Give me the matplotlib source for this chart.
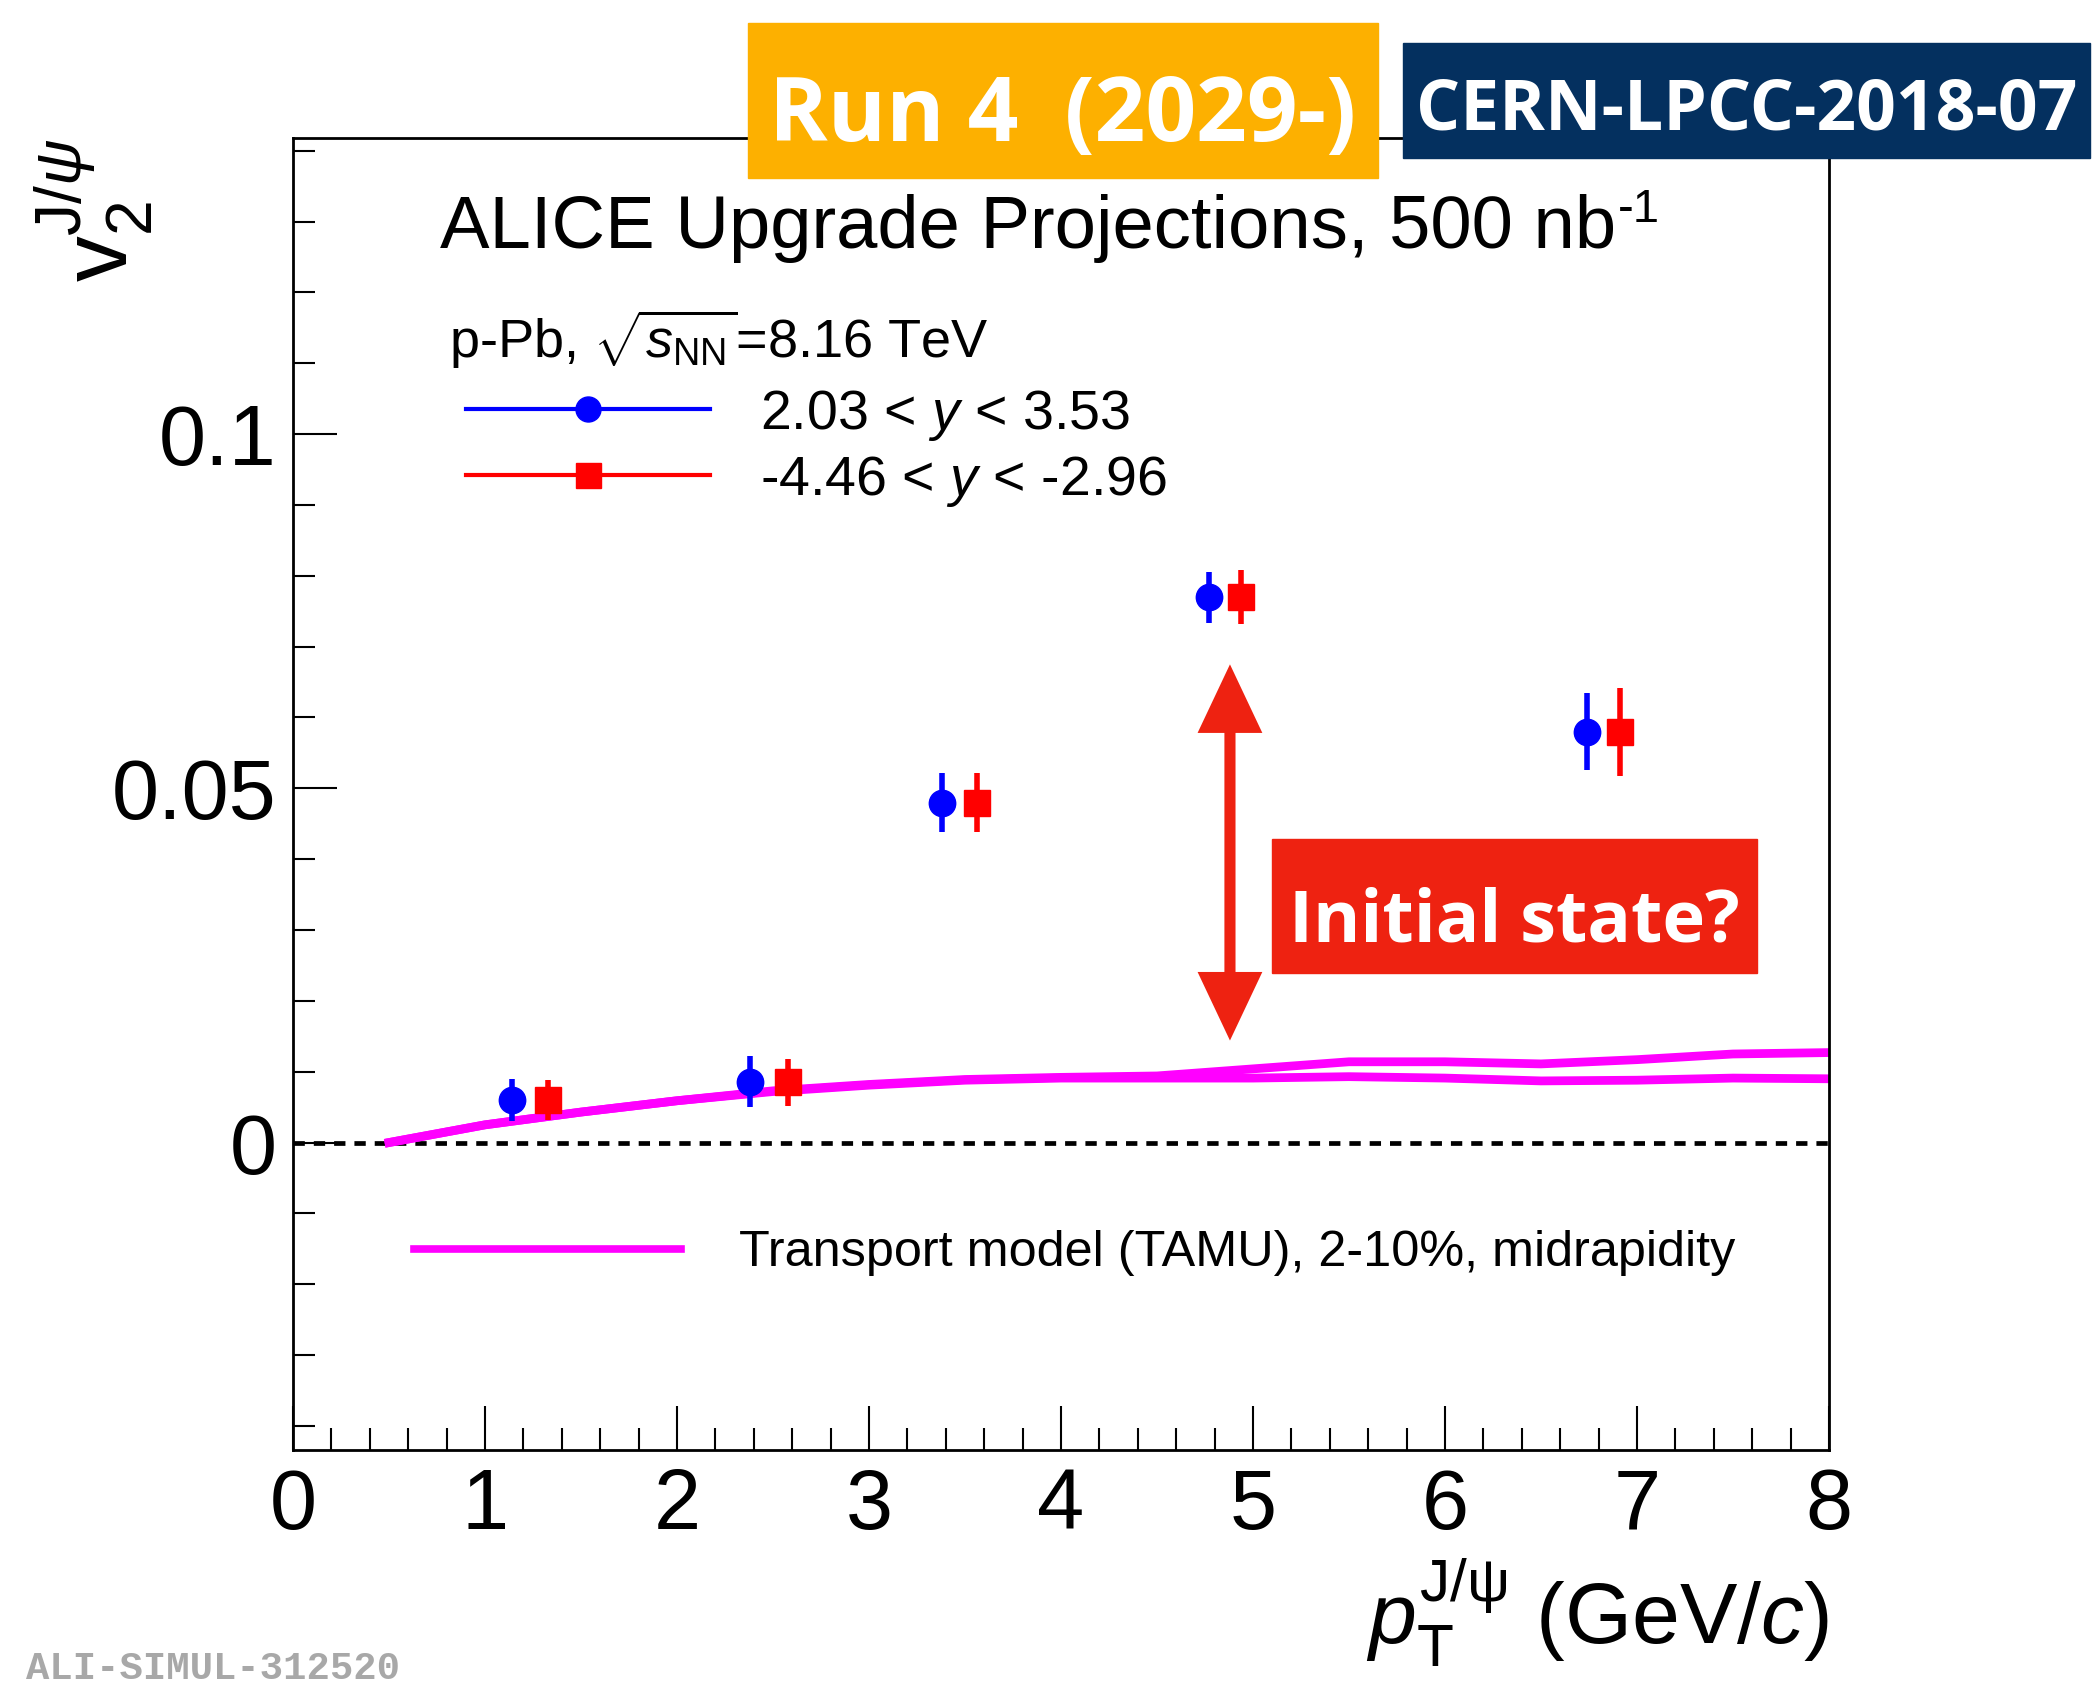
import matplotlib
matplotlib.use('Agg')
import matplotlib.pyplot as plt
from matplotlib.patches import Rectangle, FancyArrowPatch
from matplotlib.lines import Line2D
from matplotlib.ticker import MultipleLocator, FuncFormatter

plt.rcParams['font.family'] = ['Liberation Sans', 'DejaVu Sans']
plt.rcParams['mathtext.fontset'] = 'custom'
plt.rcParams['mathtext.rm'] = 'Liberation Sans'
plt.rcParams['mathtext.it'] = 'Liberation Sans:italic'
plt.rcParams['mathtext.bf'] = 'Liberation Sans:bold'

# projected v2 points, forward rapidity (blue) and backward rapidity (red)
pt_fwd = [1.14, 2.38, 3.38, 4.77, 6.74]
v2_fwd = [0.0060, 0.0086, 0.0480, 0.0770, 0.0580]
err_fwd = [0.0030, 0.0036, 0.0041, 0.0036, 0.0054]

pt_bwd = [1.33, 2.58, 3.56, 4.94, 6.91]
v2_bwd = [0.0060, 0.0085, 0.0480, 0.0770, 0.0580]
err_bwd = [0.0028, 0.0033, 0.0041, 0.0038, 0.0062]

# transport model (TAMU), two curves
pt_model = [0.5, 1.0, 1.5, 2.0, 2.5, 3.0, 3.5, 4.0, 4.5, 5.0, 5.5, 6.0, 6.5, 7.0, 7.5, 8.0]
v2_model_a = [0.0, 0.0025, 0.0043, 0.0059, 0.0073, 0.0082, 0.0089, 0.0092, 0.0094,
              0.0104, 0.0114, 0.0114, 0.0111, 0.0117, 0.0125, 0.0127]
v2_model_b = [0.0, 0.0025, 0.0043, 0.0059, 0.0072, 0.0081, 0.0088, 0.0091, 0.0091,
              0.0091, 0.0093, 0.0091, 0.0087, 0.0088, 0.0091, 0.0090]

label_fwd = r'2.03 < $y$ < 3.53'
label_bwd = r'-4.46 < $y$ < -2.96'
label_model = 'Transport model (TAMU), 2-10%, midrapidity'

# "Initial state?" arrow (data coords)
arrow_x = 4.88
arrow_y = (0.0144, 0.0675)

W, H = 2100, 1687


def fig_rect(x0, y0, x1, y1):
    # pixel box (top-left origin) -> figure fraction
    return (x0 / W, 1 - y1 / H), (x1 - x0) / W, (y1 - y0) / H


fig = plt.figure(figsize=(21, 16.87), dpi=100)
ax = fig.add_axes([293 / W, 1 - 1450 / H, 1536 / W, 1312 / H])

ax.set_xlim(0, 8)
ax.set_ylim(-0.0434, 0.1418)

ax.axhline(0, color='black', lw=3.4, ls=(0, (2.4, 1.9)), zorder=1)

ax.plot(pt_model, v2_model_a, color='#ff00ff', lw=6.3, zorder=2)
ax.plot(pt_model, v2_model_b, color='#ff00ff', lw=6.3, zorder=2)

ax.errorbar(pt_fwd, v2_fwd, yerr=err_fwd, fmt='o', color='#0000ff', ms=19,
            elinewidth=4, capsize=0, zorder=3)
ax.errorbar(pt_bwd, v2_bwd, yerr=err_bwd, fmt='s', color='#ff0000', ms=19,
            elinewidth=4, capsize=0, zorder=3)

arrow = FancyArrowPatch((arrow_x, arrow_y[0]), (arrow_x, arrow_y[1]),
                        arrowstyle='<|-|>,head_length=36,head_width=17',
                        mutation_scale=1, lw=8, color='#ee2211',
                        joinstyle='miter', capstyle='butt',
                        shrinkA=0, shrinkB=0, zorder=4)
ax.add_patch(arrow)

# axes style (ROOT like)
for s in ['left', 'bottom', 'top', 'right']:
    ax.spines[s].set_linewidth(2)
ax.xaxis.set_major_locator(MultipleLocator(1))
ax.xaxis.set_minor_locator(MultipleLocator(0.2))
ax.yaxis.set_major_locator(MultipleLocator(0.05))
ax.yaxis.set_minor_locator(MultipleLocator(0.01))
ax.yaxis.set_major_formatter(FuncFormatter(lambda v, p: f'{v:g}' if abs(v) > 1e-9 else '0'))
ax.tick_params(which='both', direction='in', top=False, right=False, width=1.5)
ax.tick_params(which='major', length=32, labelsize=61, pad=12)
ax.tick_params(which='minor', length=16)

ax.set_xlabel(r'$p_{\rm T}^{\rm J/\psi}$ (GeV/$c$)', fontsize=62, ha='right', va='baseline')
ax.xaxis.set_label_coords(1.0, -0.1475)
ax.set_ylabel(r'$\mathrm{v}_{2}^{\mathrm{J}/\psi}$', fontsize=66, ha='right', va='baseline',
              rotation=90, rotation_mode='anchor')
ax.yaxis.set_label_coords(-0.1074, 1.0)

title = ax.text(0.0957, 0.9162, 'ALICE Upgrade Projections, 500 nb', fontsize=53.5,
                transform=ax.transAxes, va='baseline', ha='left')
ax.annotate('-1', xy=(1.0, 1.0), xycoords=title, xytext=(1, 4), textcoords='offset points',
            fontsize=34, va='top', ha='left')
ax.text(0.1016, 0.8325, r'p-Pb, $\sqrt{s_{\rm NN}}$=8.16 TeV', fontsize=39,
        transform=ax.transAxes, va='baseline', ha='left')

h_fwd = Line2D([], [], color='#0000ff', marker='o', ms=18, lw=3)
h_bwd = Line2D([], [], color='#ff0000', marker='s', ms=18, lw=3)
leg1 = ax.legend([h_fwd, h_bwd], [label_fwd, label_bwd], loc='upper left',
                 bbox_to_anchor=(0.1126, 0.8098), frameon=False, fontsize=40,
                 handlelength=4.4, handletextpad=0.9, labelspacing=0.2,
                 borderpad=0, borderaxespad=0, numpoints=1)
ax.add_artist(leg1)

h_model = Line2D([], [], color='#ff00ff', lw=5.5)
ax.legend([h_model], [label_model], loc='center left', bbox_to_anchor=(0.0788, 0.150),
          frameon=False, fontsize=36.3, handlelength=5.3, handletextpad=1.15,
          borderpad=0, borderaxespad=0)

# boxes on top: (box pixels), colour, text, fontsize, text baseline pixel
bold_box = ['Open Sans', 'DejaVu Sans']
for (x0, y0, x1, y1), color, txt, fs, base in [
        ((748, 23, 1378, 178), '#fdb000', 'Run 4  (2029-)', 64, 141),
        ((1403, 43, 2090, 158), '#04305f', 'CERN-LPCC-2018-07', 50, 130),
        ((1272, 839, 1757, 973), '#ee2211', 'Initial state?', 52, 941)]:
    xy, w, h = fig_rect(x0, y0, x1, y1)
    fig.add_artist(Rectangle(xy, w, h, transform=fig.transFigure, color=color, zorder=5))
    fig.text(xy[0] + w / 2, 1 - base / H, txt, color='white', fontsize=fs,
             fontweight='bold', family=bold_box, ha='center', va='baseline', zorder=6)

fig.text(26 / W, 1 - 1679 / H, 'ALI-SIMUL-312520', family=['Liberation Mono', 'DejaVu Sans Mono'],
         fontweight='bold', fontsize=28, color='#a8a8a8', ha='left', va='baseline')

fig.savefig('out.png', dpi=100)
